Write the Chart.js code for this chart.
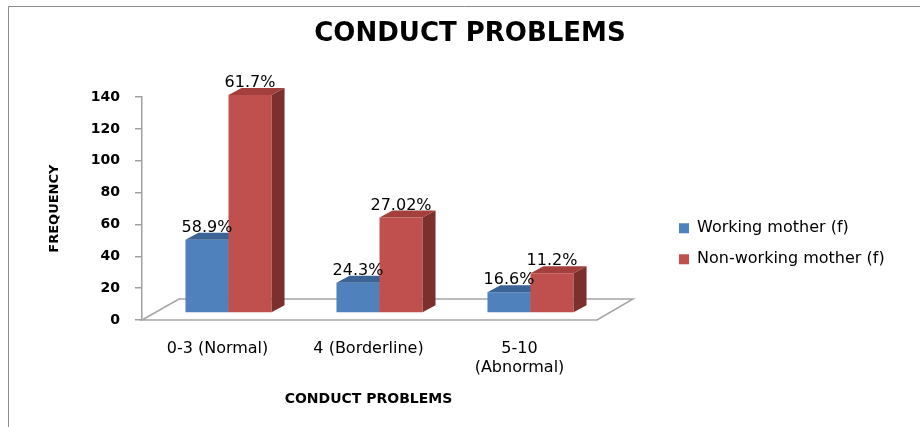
<!DOCTYPE html>
<html>
<head>
<meta charset="utf-8">
<script src="https://cdn.jsdelivr.net/npm/chart.js@4/dist/chart.umd.min.js"></script>
<style>
  html, body { margin: 0; padding: 0; background: #fff; }
</style>
</head>
<body>
<canvas id="myChart" width="920" height="427"></canvas>
<script>
const categories = ['0-3 (Normal)', '4 (Borderline)', ['5-10', '(Abnormal)']];
const workingMother = [46, 19, 13];
const nonWorkingMother = [137, 60, 25];
const workingPct = ['58.9%', '24.3%', '16.6%'];
const nonWorkingPct = ['61.7%', '27.02%', '11.2%'];
const yTicks = [0, 20, 40, 60, 80, 100, 120, 140];

// fake 3d look: depth of the bar faces and of the floor
const DEPTH_X = 13, DEPTH_Y = -7;
const SHIFT_X = 11, SHIFT_Y = -7;
const faces = [
  { top: '#3b6396', side: '#2f5078' },
  { top: '#a3403d', side: '#7c302e' },
];
const pctLabels = [workingPct, nonWorkingPct];
const PLOT_LEFT = 142, PLOT_RIGHT = 595;

const bar3d = {
  id: 'bar3d',
  beforeDraw(chart) {
    const ctx = chart.ctx;
    ctx.save();
    ctx.strokeStyle = '#8c8c8c';
    ctx.lineWidth = 1;
    ctx.beginPath();
    ctx.moveTo(8.5, chart.height);
    ctx.lineTo(8.5, 6.5);
    ctx.lineTo(chart.width, 6.5);
    ctx.stroke();
    ctx.restore();
  },
  beforeDatasetsDraw(chart) {
    const { ctx, chartArea: a } = chart;
    // floor
    ctx.save();
    ctx.strokeStyle = '#a6a6a6';
    ctx.lineWidth = 1.5;
    ctx.beginPath();
    ctx.moveTo(a.left, a.bottom);
    ctx.lineTo(a.left + 37, a.bottom - 21);
    ctx.lineTo(a.right + 38, a.bottom - 21);
    ctx.lineTo(a.right + 2, a.bottom);
    ctx.closePath();
    ctx.stroke();
    ctx.restore();

    ctx.save();
    ctx.translate(SHIFT_X, SHIFT_Y);
    chart.data.datasets.forEach((ds, i) => {
      const c = faces[i];
      chart.getDatasetMeta(i).data.forEach(bar => {
        bar.draw(ctx);
        const { x, y, base, width } = bar.getProps(['x', 'y', 'base', 'width'], true);
        const l = x - width / 2, r = x + width / 2;
        ctx.fillStyle = c.top;
        ctx.beginPath();
        ctx.moveTo(l, y);
        ctx.lineTo(l + DEPTH_X, y + DEPTH_Y);
        ctx.lineTo(r + DEPTH_X, y + DEPTH_Y);
        ctx.lineTo(r, y);
        ctx.closePath();
        ctx.fill();
        ctx.fillStyle = c.side;
        ctx.beginPath();
        ctx.moveTo(r, y);
        ctx.lineTo(r + DEPTH_X, y + DEPTH_Y);
        ctx.lineTo(r + DEPTH_X, base + DEPTH_Y);
        ctx.lineTo(r, base);
        ctx.closePath();
        ctx.fill();
      });
    });
    ctx.font = '16px "DejaVu Sans"';
    ctx.fillStyle = '#000';
    ctx.textAlign = 'center';
    ctx.textBaseline = 'alphabetic';
    pctLabels.forEach((labels, i) => {
      chart.getDatasetMeta(i).data.forEach((bar, j) => {
        ctx.fillText(labels[j], bar.x, bar.y - 8);
      });
    });
    ctx.restore();
    return false;
  }
};

Chart.defaults.font.family = 'DejaVu Sans';
Chart.defaults.color = '#000';

var ctx = document.getElementById('myChart').getContext('2d');
var chart = new Chart(ctx, {
  type: 'bar',
  data: {
    labels: categories,
    datasets: [
      {
        label: 'Working mother (f)',
        data: workingMother,
        backgroundColor: '#4f81bd',
        borderColor: '#4f81bd',
        borderWidth: 0,
      },
      {
        label: 'Non-working mother (f)',
        data: nonWorkingMother,
        backgroundColor: '#c0504d',
        borderColor: '#c0504d',
        borderWidth: 0,
      },
    ],
  },
  plugins: [bar3d],
  options: {
    responsive: false,
    animation: false,
    devicePixelRatio: 1,
    layout: { padding: { left: 20, top: 0, right: 0, bottom: 0 } },
    datasets: { bar: { categoryPercentage: 0.57, barPercentage: 1 } },
    plugins: {
      tooltip: { enabled: false },
      title: {
        display: true,
        text: 'CONDUCT PROBLEMS',
        color: '#000',
        font: { size: 26, weight: 'bold' },
        padding: { top: 19, bottom: 47 },
      },
      legend: {
        position: 'right',
        fullSize: false,
        align: 'start',
        maxWidth: 400,
        title: { display: true, text: '', font: { size: 10, lineHeight: 1 }, padding: { top: 98, bottom: 0 } },
        labels: { boxWidth: 10, boxHeight: 10, padding: 15, color: '#000', font: { size: 16 } },
      },
    },
    scales: {
      x: {
        grid: { display: false, drawTicks: false },
        border: { display: false },
        ticks: { color: '#000', font: { size: 16 }, padding: 19, maxRotation: 0, autoSkip: false },
        title: { display: true, text: 'CONDUCT PROBLEMS', color: '#000', font: { size: 14, weight: 'bold' }, padding: { top: 0, bottom: 19 } },
        afterFit(s) { s.height = 107; },
      },
      y: {
        min: yTicks[0],
        max: yTicks[yTicks.length - 1],
        ticks: { stepSize: yTicks[1] - yTicks[0], color: '#000', font: { size: 14, weight: 'bold' }, padding: 15 },
        grid: { display: true, drawOnChartArea: false, tickLength: 7, color: '#a0a0a0', lineWidth: 1.5 },
        border: { display: true, color: '#a0a0a0', width: 1.5 },
        title: { display: true, text: 'FREQUENCY', color: '#000', font: { size: 13, weight: 'bold' }, padding: { top: 27, bottom: 0 } },
        afterFit(s) { s.width = PLOT_LEFT - s.chart.config.options.layout.padding.left; },
      },
      gap: {
        type: 'linear',
        position: 'right',
        display: true,
        grid: { display: false },
        border: { display: false },
        ticks: { display: false },
        afterFit(s) { s.width = 69; },
      },
    },
  },
});

// move the plot so its right edge sits where the reference has it,
// keeping the title centred at the same place
const err = chart.chartArea.right - PLOT_RIGHT;
if (Math.abs(err) > 0.5) {
  const o = chart.config.options;
  o.layout.padding.right += err;
  o.layout.padding.left += err;
  o.scales.y.title.padding.top -= err;
  chart.update('none');
}
</script>
</body>
</html>
